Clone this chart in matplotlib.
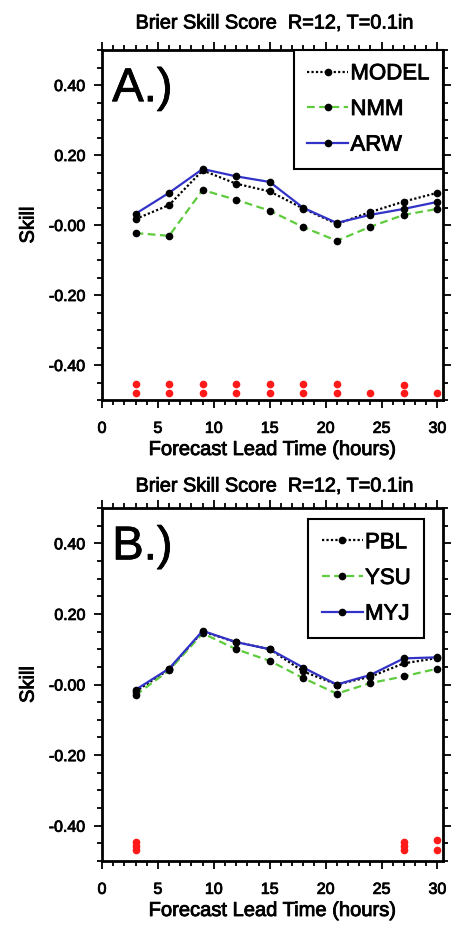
import matplotlib
matplotlib.use("Agg")
import matplotlib.pyplot as plt
import matplotlib.patheffects as pe
from matplotlib.ticker import MultipleLocator

plt.rcParams['font.family'] = ['Liberation Sans', 'DejaVu Sans']

# Forecast lead times (hours)
lead = [3, 6, 9, 12, 15, 18, 21, 24, 27, 30]

# Panel A: model comparison
model_a = [0.017, 0.057, 0.156, 0.118, 0.096, 0.047, 0.003, 0.037, 0.067, 0.092]
nmm_a = [-0.023, -0.031, 0.100, 0.072, 0.041, -0.006, -0.045, -0.005, 0.029, 0.046]
arw_a = [0.032, 0.092, 0.160, 0.139, 0.123, 0.049, 0.006, 0.029, 0.046, 0.066]

# Panel B: PBL scheme comparison
pbl_b = [-0.020, 0.043, 0.150, 0.120, 0.100, 0.037, 0.000, 0.022, 0.060, 0.075]
ysu_b = [-0.030, 0.040, 0.145, 0.100, 0.067, 0.018, -0.026, 0.004, 0.023, 0.045]
myj_b = [-0.015, 0.045, 0.152, 0.120, 0.100, 0.048, 0.000, 0.027, 0.074, 0.077]

# Significance markers
sig_a_x = [3, 3, 6, 6, 9, 9, 12, 12, 15, 15, 18, 18, 21, 21, 24, 27, 27, 30]
sig_a_y = [-0.455, -0.480, -0.455, -0.480, -0.455, -0.480, -0.455, -0.480,
           -0.455, -0.480, -0.455, -0.480, -0.455, -0.480, -0.480,
           -0.458, -0.480, -0.480]
sig_b_x = [3, 3, 3, 27, 27, 27, 30, 30]
sig_b_y = [-0.447, -0.458, -0.469, -0.447, -0.458, -0.469, -0.441, -0.469]

title = "Brier Skill Score  R=12, T=0.1in"
xlabel = "Forecast Lead Time (hours)"
ylabel = "Skill"
yticks = [-0.40, -0.20, 0.0, 0.20, 0.40]
ytick_labels = ["-0.40", "-0.20", "-0.00", "0.20", "0.40"]
xticks = [0, 5, 10, 15, 20, 25, 30]

BLACK = "black"
GREEN = "#5dcb3c"
BLUE = "#3232c8"
RED = "#ff1a1a"

# slightly heavier glyph strokes for all text
HEAVY = [pe.withStroke(linewidth=0.6, foreground='black')]

fig = plt.figure(figsize=(4.52, 9.25), dpi=100)
W, H = 452, 925


def add_axes(top_px, bottom_px):
    left, right = 102, 443
    return fig.add_axes([left / W, 1 - bottom_px / H, (right - left) / W,
                         (bottom_px - top_px) / H])


def style_axes(ax):
    ax.set_xlim(0, 30.5)
    ax.set_ylim(-0.5, 0.5)
    ax.set_xticks(xticks)
    ax.set_xticklabels([str(t) for t in xticks])
    ax.set_yticks(yticks)
    ax.set_yticklabels(ytick_labels)
    ax.xaxis.set_minor_locator(MultipleLocator(1))
    ax.yaxis.set_minor_locator(MultipleLocator(0.05))
    ax.tick_params(which='both', direction='out', top=True, right=True,
                   labeltop=False, labelright=False, width=1.3)
    ax.tick_params(which='major', length=6)
    ax.tick_params(which='minor', length=3.5)
    ax.tick_params(axis='x', which='major', pad=9, labelsize=11.5)
    ax.tick_params(axis='y', which='major', pad=6, labelsize=11.5)
    for s in ax.spines.values():
        s.set_linewidth(2.0)
    ax.set_xlabel(xlabel, fontsize=14.5, labelpad=3)
    ax.set_ylabel(ylabel, fontsize=14.5, labelpad=8)
    for t in ax.get_xticklabels() + ax.get_yticklabels():
        t.set_path_effects(HEAVY)
    ax.xaxis.label.set_path_effects(HEAVY)
    ax.yaxis.label.set_path_effects(HEAVY)


def draw_series(ax, series, labels, sig_x, sig_y):
    styles = [
        dict(color=BLACK, linestyle=(0, (1, 1))),
        dict(color=GREEN, linestyle=(0, (3.5, 2))),
        dict(color=BLUE, linestyle='-'),
    ]
    for vals, lab, st in zip(series, labels, styles):
        ax.plot(lead, vals, lw=1.6, marker='o', markersize=4.5,
                markerfacecolor='black', markeredgecolor='black',
                label=lab, **st)
    ax.plot(sig_x, sig_y, linestyle='none', marker='o', markersize=4.5,
            color=RED)


def add_legend(ax, anchor):
    leg = ax.legend(loc='upper right', bbox_to_anchor=anchor,
                    borderaxespad=0, fontsize=16,
                    handlelength=1.85, handletextpad=0.1, borderpad=0.6,
                    labelspacing=0.66, fancybox=False, framealpha=1,
                    edgecolor='black')
    leg.get_frame().set_linewidth(1.5)
    for t in leg.get_texts():
        t.set_path_effects(HEAVY)
    return leg


# Panel A
axA = add_axes(50, 400)
draw_series(axA, [model_a, nmm_a, arw_a], ["MODEL", "NMM", "ARW"],
            sig_a_x, sig_a_y)
style_axes(axA)
axA.text(0.03, 0.951, "A.)", transform=axA.transAxes, fontsize=34,
         va='top', ha='left', path_effects=HEAVY)
add_legend(axA, (1.0, 1.0))

# Panel B
axB = add_axes(508, 861)
draw_series(axB, [pbl_b, ysu_b, myj_b], ["PBL", "YSU", "MYJ"],
            sig_b_x, sig_b_y)
style_axes(axB)
axB.text(0.03, 0.951, "B.)", transform=axB.transAxes, fontsize=34,
         va='top', ha='left', path_effects=HEAVY)
add_legend(axB, (0.945, 0.969))

fig.text(275 / W, 1 - 23 / H, title, ha='center', va='center', fontsize=14.3,
         path_effects=HEAVY)
fig.text(275 / W, 1 - 486 / H, title, ha='center', va='center', fontsize=14.3,
         path_effects=HEAVY)

fig.savefig("out.png", dpi=100)
